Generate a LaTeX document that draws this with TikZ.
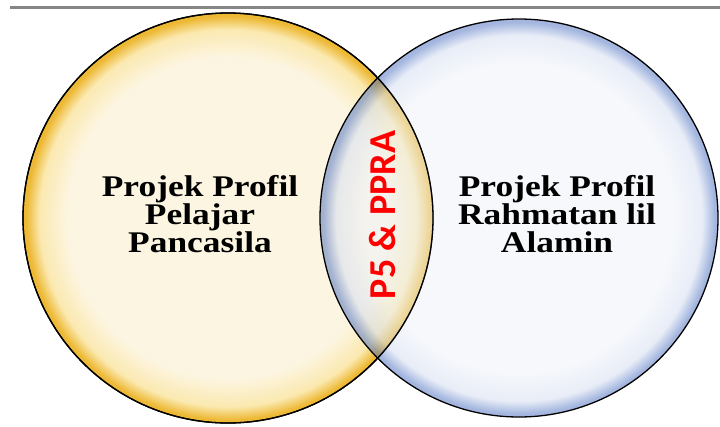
\documentclass[tikz,border=0pt]{standalone}
\usepackage{fontspec}
\setmainfont{Liberation Serif}
\newfontfamily\wideserif{Liberation Serif}[FakeStretch=1.18]
\newfontfamily\calibrifont{Carlito}
\definecolor{yelIn}{HTML}{FCF5E2}
\definecolor{yelMid}{HTML}{FBE9B0}
\definecolor{yelOut}{HTML}{EDB935}
\definecolor{bluIn}{HTML}{EEF2F9}
\definecolor{bluMid}{HTML}{D2DCF1}
\definecolor{bluOut}{HTML}{4A6FC0}
\definecolor{ppraRed}{HTML}{FF0000}
\pgfdeclareradialshading{yelshade}{\pgfpoint{0bp}{0bp}}{color(0bp)=(yelIn); color(19.5bp)=(yelIn); color(23bp)=(yelMid); color(24.6bp)=(yelOut); color(25bp)=(yelOut); color(50bp)=(yelOut)}
\pgfdeclareradialshading{blushade}{\pgfpoint{0bp}{0bp}}{color(0bp)=(bluIn); color(19.5bp)=(bluIn); color(23bp)=(bluMid); color(24.6bp)=(bluOut); color(25bp)=(bluOut); color(50bp)=(bluOut)}
\tikzset{
  venn/.style={circle, draw=black, line width=1.3pt, inner sep=0pt},
  rim/.style={draw=black, line width=1.3pt},
  lbl/.style={font=\wideserif\bfseries\fontsize{30}{28}\selectfont, align=center, text=black},
  mid/.style={font=\calibrifont\bfseries\fontsize{38}{40}\selectfont, text=ppraRed, rotate=90}
}
\begin{document}
\begin{tikzpicture}[x=1pt,y=-1pt]
\useasboundingbox (0,0) rectangle (720,426);
\fill[white] (0,0) rectangle (720,426);
\coordinate (tl) at (10,7);
\coordinate (tr) at (720,7);
\draw[line width=3pt, color=gray!95] (tl) -- (tr);
\node[venn, minimum size=410pt, shading=yelshade] (L) at (228,218) {};
\node[venn, minimum size=398pt, shading=blushade, fill opacity=0.5, draw opacity=1] (R) at (519,218) {};
\draw[rim] (L.center) circle[radius=205];
\node[lbl] (lt) at (200,214) {Projek Profil\\Pelajar\\Pancasila};
\node[lbl] (rt) at (557,214) {Projek Profil\\Rahmatan lil\\Alamin};
\node[mid] (mt) at (383,215) {P5 \& PPRA};
\end{tikzpicture}
\end{document}
